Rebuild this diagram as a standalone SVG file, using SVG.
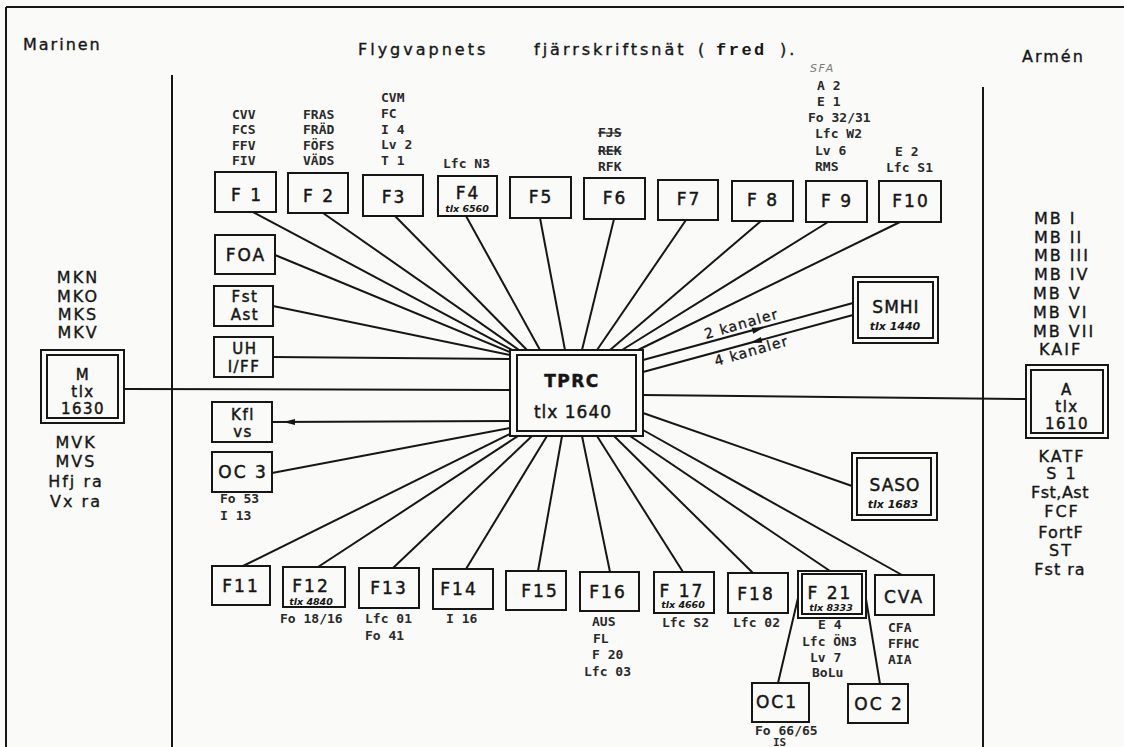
<svg xmlns="http://www.w3.org/2000/svg" xmlns:xlink="http://www.w3.org/1999/xlink" width="1124" height="747" viewBox="0 0 1124 747">
<defs>
<style>
.bg{fill:#fafaf8}
.box{fill:none;stroke:#161616;stroke-width:2}
.ln{stroke:#161616;stroke-width:2;fill:none}
.fr{stroke:#161616;stroke-width:2;fill:none}
.lbl{font-family:"DejaVu Sans","Liberation Sans",sans-serif;font-size:17px;fill:#161616;stroke:#161616;stroke-width:0.45px;letter-spacing:2px;text-anchor:middle}
.two{font-size:15px;letter-spacing:1.5px}
.big{font-family:"DejaVu Sans","Liberation Sans",sans-serif;font-size:16px;fill:#161616;stroke:#161616;stroke-width:0.35px;letter-spacing:2px}
.mid{text-anchor:middle}
.sm{font-family:"DejaVu Sans Mono","Liberation Mono",monospace;font-weight:bold;font-size:13px;fill:#2a2a2a}
.hw{font-family:"DejaVu Sans","Liberation Sans",sans-serif;font-style:italic;font-weight:bold;font-size:9.5px;fill:#161616;text-anchor:middle}
.hw2{font-size:11px}
.ttl{font-family:"DejaVu Sans","Liberation Sans",sans-serif;font-size:16px;fill:#161616;stroke:#161616;stroke-width:0.35px;letter-spacing:3px}
</style>
<path id="ah" d="M0,0 L-12,-3 L-12,3 Z" fill="#161616"/>
</defs>
<rect class="bg" x="0" y="0" width="1124" height="747"/>

<g id="frame">
<line class="fr" x1="6" y1="7" x2="1124" y2="7"/>
<line class="fr" x1="6" y1="7" x2="6" y2="747"/>
<line class="fr" x1="172" y1="75" x2="172" y2="747"/>
<line class="fr" x1="983" y1="87" x2="983" y2="747"/>
</g>

<g id="titles">
<text class="big" x="23" y="50">Marinen</text>
<text class="ttl" x="358" y="55">Flygvapnets</text>
<text class="ttl" x="534" y="55">fjärrskriftsnät</text>
<text class="ttl" x="698" y="55">(</text>
<text x="716" y="55" style="font-family:'Liberation Mono',monospace;font-weight:bold;font-size:17px;letter-spacing:2.5px;fill:#161616">fred</text>
<text class="ttl" x="780" y="55">).</text>
<text class="big" x="1022" y="62">Armén</text>
<text x="810" y="72" style="font-family:'DejaVu Sans',sans-serif;font-style:italic;font-size:11px;letter-spacing:1.5px;fill:#7a7a7a">SFA</text>
</g>

<g id="connectors">
<line class="ln" x1="253" y1="212" x2="512" y2="350"/>
<line class="ln" x1="323" y1="213" x2="519" y2="350"/>
<line class="ln" x1="395" y1="216" x2="527" y2="350"/>
<line class="ln" x1="466" y1="216" x2="540" y2="350"/>
<line class="ln" x1="540" y1="218" x2="565" y2="350"/>
<line class="ln" x1="614" y1="219" x2="582" y2="350"/>
<line class="ln" x1="686" y1="220" x2="597" y2="350"/>
<line class="ln" x1="761" y1="221" x2="610" y2="350"/>
<line class="ln" x1="828" y1="222" x2="622" y2="350"/>
<line class="ln" x1="900" y1="222" x2="638" y2="350"/>
<line class="ln" x1="275" y1="255" x2="510" y2="352"/>
<line class="ln" x1="273" y1="306" x2="510" y2="355"/>
<line class="ln" x1="273" y1="357" x2="510" y2="359"/>
<line class="ln" x1="124" y1="389" x2="510" y2="390"/>
<line class="ln" x1="272" y1="422" x2="510" y2="421"/>
<use xlink:href="#ah" href="#ah" transform="translate(283,422) rotate(180)"/>
<line class="ln" x1="272" y1="473" x2="510" y2="428"/>
<line class="ln" x1="243" y1="566" x2="510" y2="434"/>
<line class="ln" x1="318" y1="567" x2="518" y2="436"/>
<line class="ln" x1="393" y1="568" x2="532" y2="436"/>
<line class="ln" x1="466" y1="569" x2="547" y2="436"/>
<line class="ln" x1="538" y1="571" x2="562" y2="436"/>
<line class="ln" x1="610" y1="572" x2="582" y2="436"/>
<line class="ln" x1="683" y1="572" x2="597" y2="436"/>
<line class="ln" x1="753" y1="573" x2="614" y2="436"/>
<line class="ln" x1="830" y1="571" x2="630" y2="436"/>
<line class="ln" x1="902" y1="575" x2="643" y2="430"/>
<line class="ln" x1="643" y1="413" x2="852" y2="486"/>
<line class="ln" x1="643" y1="395" x2="1026" y2="399"/>
<line class="ln" x1="643" y1="360" x2="853" y2="303"/>
<use xlink:href="#ah" href="#ah" transform="translate(764,327.6) rotate(-15.2)"/>
<line class="ln" x1="643" y1="372" x2="853" y2="315"/>
<use xlink:href="#ah" href="#ah" transform="translate(750,343) rotate(164.8)"/>
<line class="ln" x1="798" y1="598" x2="778" y2="683"/>
<line class="ln" x1="866" y1="599" x2="880" y2="684"/>
<text transform="translate(706,339) rotate(-16)" style="font-family:'DejaVu Sans',sans-serif;font-size:14px;letter-spacing:1.2px;fill:#161616;stroke:#161616;stroke-width:0.3px">2 kanaler</text>
<text transform="translate(716,366) rotate(-16)" style="font-family:'DejaVu Sans',sans-serif;font-size:14px;letter-spacing:1.2px;fill:#161616;stroke:#161616;stroke-width:0.3px">4 kanaler</text>
</g>

<g id="F1">
<text class="sm" x="232" y="119">CVV</text><text class="sm" x="232" y="134">FCS</text><text class="sm" x="232" y="150">FFV</text><text class="sm" x="232" y="165">FIV</text>
<rect class="box" x="215" y="172" width="61" height="40"/><text class="lbl" x="247" y="201">F 1</text>
</g>
<g id="F2">
<text class="sm" x="303" y="119">FRAS</text><text class="sm" x="303" y="134">FRÄD</text><text class="sm" x="303" y="150">FÖFS</text><text class="sm" x="303" y="165">VÄDS</text>
<rect class="box" x="288" y="173" width="60" height="40"/><text class="lbl" x="319" y="202">F 2</text>
</g>
<g id="F3">
<text class="sm" x="381" y="102">CVM</text><text class="sm" x="381" y="118">FC</text><text class="sm" x="381" y="134">I 4</text><text class="sm" x="381" y="149">Lv 2</text><text class="sm" x="381" y="165">T 1</text>
<rect class="box" x="363" y="175" width="60" height="41"/><text class="lbl" x="394" y="203">F3</text>
</g>
<g id="F4">
<text class="sm" x="443" y="168">Lfc N3</text>
<rect class="box" x="438" y="176" width="59" height="40"/><text class="lbl" x="468" y="199">F4</text><text class="hw" x="467" y="212">tlx 6560</text>
</g>
<g id="F5"><rect class="box" x="510" y="177" width="61" height="41"/><text class="lbl" x="541" y="203">F5</text></g>
<g id="F6">
<text class="sm" x="598" y="137" style="text-decoration:line-through">FJS</text><text class="sm" x="598" y="155" style="text-decoration:line-through">REK</text><text class="sm" x="598" y="171">RFK</text>
<rect class="box" x="584" y="178" width="61" height="41"/><text class="lbl" x="615" y="204">F6</text>
</g>
<g id="F7"><rect class="box" x="658" y="180" width="60" height="40"/><text class="lbl" x="689" y="205">F7</text></g>
<g id="F8"><rect class="box" x="732" y="181" width="61" height="40"/><text class="lbl" x="763" y="206">F 8</text></g>
<g id="F9">
<text class="sm" x="817" y="90">A 2</text><text class="sm" x="817" y="106">E 1</text><text class="sm" x="808" y="122">Fo 32/31</text><text class="sm" x="815" y="138">Lfc W2</text><text class="sm" x="815" y="155">Lv 6</text><text class="sm" x="815" y="171">RMS</text>
<rect class="box" x="806" y="181" width="61" height="41"/><text class="lbl" x="837" y="207">F 9</text>
</g>
<g id="F10">
<text class="sm" x="895" y="156">E 2</text><text class="sm" x="886" y="172">Lfc S1</text>
<rect class="box" x="879" y="181" width="62" height="41"/><text class="lbl" x="911" y="207">F10</text>
</g>

<g id="FOA"><rect class="box" x="215" y="235" width="60" height="39"/><text class="lbl" x="246" y="261">FOA</text></g>
<g id="FstAst"><rect class="box" x="214" y="286" width="59" height="40"/><text class="lbl two" x="245" y="302">Fst</text><text class="lbl two" x="245" y="320">Ast</text></g>
<g id="UH"><rect class="box" x="214" y="337" width="59" height="40"/><text class="lbl two" x="245" y="354">UH</text><text class="lbl two" x="244" y="372">I/FF</text></g>
<g id="Kfl"><rect class="box" x="212" y="402" width="60" height="40"/><text class="lbl two" x="243" y="420">Kfl</text><text class="lbl two" x="243" y="437">vs</text></g>
<g id="OC3">
<rect class="box" x="212" y="452" width="60" height="40"/><text class="lbl" x="243" y="478">OC 3</text>
<text class="sm" x="220" y="503">Fo 53</text><text class="sm" x="220" y="520">I 13</text>
</g>

<g id="M">
<text class="big mid" x="78" y="283">MKN</text><text class="big mid" x="78" y="302">MKO</text><text class="big mid" x="78" y="320">MKS</text><text class="big mid" x="78" y="338">MKV</text>
<rect class="box" x="41" y="350" width="83" height="73"/><rect class="box" x="47" y="355" width="71" height="63"/>
<text class="lbl two" x="83" y="380">M</text><text class="lbl two" x="83" y="397">tlx</text><text class="lbl two" x="83" y="414">1630</text>
<text class="big mid" x="76" y="448">MVK</text><text class="big mid" x="76" y="467">MVS</text><text class="big mid" x="76" y="487">Hfj ra</text><text class="big mid" x="76" y="507">Vx ra</text>
</g>

<g id="TPRC">
<rect class="box" x="510" y="350" width="133" height="86"/><rect class="box" x="517" y="355" width="119" height="76"/>
<text class="lbl" x="572" y="387" style="font-weight:bold;letter-spacing:1.5px">TPRC</text>
<text class="lbl" x="573" y="418" style="letter-spacing:1px">tlx 1640</text>
</g>

<g id="SMHI">
<rect class="box" x="853" y="277" width="85" height="66"/><rect class="box" x="858" y="282" width="75" height="56"/>
<text class="lbl" x="896" y="313" style="letter-spacing:1px">SMHI</text><text class="hw hw2" x="895" y="330">tlx 1440</text>
</g>
<g id="SASO">
<rect class="box" x="852" y="453" width="85" height="67"/><rect class="box" x="857" y="458" width="74" height="57"/>
<text class="lbl" x="895" y="491" style="letter-spacing:1px">SASO</text><text class="hw hw2" x="893" y="508">tlx 1683</text>
</g>

<g id="A">
<text class="big" x="1034" y="224">MB I</text><text class="big" x="1034" y="243">MB II</text><text class="big" x="1034" y="261">MB III</text><text class="big" x="1034" y="280">MB IV</text><text class="big" x="1033" y="299">MB V</text><text class="big" x="1033" y="318">MB VI</text><text class="big" x="1033" y="337">MB VII</text><text class="big" x="1039" y="355">KAIF</text>
<rect class="box" x="1026" y="365" width="82" height="73"/><rect class="box" x="1031" y="370" width="72" height="63"/>
<text class="lbl two" x="1067" y="395">A</text><text class="lbl two" x="1067" y="412">tlx</text><text class="lbl two" x="1067" y="429">1610</text>
<text class="big mid" x="1062" y="462">KATF</text><text class="big mid" x="1062" y="479">S 1</text><text class="big mid" x="1060" y="498" style="letter-spacing:0.5px">Fst,Ast</text><text class="big mid" x="1062" y="517">FCF</text><text class="big mid" x="1061" y="538" style="letter-spacing:1px">FortF</text><text class="big mid" x="1061" y="556">ST</text><text class="big mid" x="1060" y="575" style="letter-spacing:1px">Fst ra</text>
</g>

<g id="F11"><rect class="box" x="212" y="566" width="58" height="39"/><text class="lbl" x="241" y="592">F11</text></g>
<g id="F12">
<rect class="box" x="283" y="567" width="62" height="40"/><text class="lbl" x="311" y="592">F12</text><text class="hw" x="311" y="605">tlx 4840</text>
<text class="sm" x="280" y="623">Fo 18/16</text>
</g>
<g id="F13">
<rect class="box" x="359" y="568" width="60" height="40"/><text class="lbl" x="389" y="594">F13</text>
<text class="sm" x="365" y="623">Lfc 01</text><text class="sm" x="365" y="640">Fo 41</text>
</g>
<g id="F14">
<rect class="box" x="433" y="569" width="60" height="40"/><text class="lbl" x="459" y="595">F14</text>
<text class="sm" x="446" y="623">I 16</text>
</g>
<g id="F15"><rect class="box" x="506" y="571" width="60" height="39"/><text class="lbl" x="540" y="597">F15</text></g>
<g id="F16">
<rect class="box" x="580" y="572" width="59" height="39"/><text class="lbl" x="608" y="598">F16</text>
<text class="sm" x="592" y="626">AUS</text><text class="sm" x="593" y="643">FL</text><text class="sm" x="592" y="659">F 20</text><text class="sm" x="584" y="676">Lfc 03</text>
</g>
<g id="F17">
<rect class="box" x="654" y="572" width="60" height="41"/><text class="lbl" x="682" y="597">F 17</text><text class="hw" x="683" y="608">tlx 4660</text>
<text class="sm" x="662" y="627">Lfc S2</text>
</g>
<g id="F18">
<rect class="box" x="728" y="573" width="60" height="40"/><text class="lbl" x="756" y="600">F18</text>
<text class="sm" x="733" y="627">Lfc 02</text>
</g>
<g id="F21">
<rect class="box" x="798" y="571" width="68" height="47"/><rect class="box" x="802" y="574" width="60" height="40"/>
<text class="lbl" x="830" y="599">F 21</text><text class="hw" x="831" y="611">tlx 8333</text>
<text class="sm" x="818" y="629">E 4</text><text class="sm" x="802" y="646">Lfc ÖN3</text><text class="sm" x="810" y="662">Lv 7</text><text class="sm" x="812" y="677">BoLu</text>
</g>
<g id="CVA">
<rect class="box" x="875" y="575" width="59" height="40"/><text class="lbl" x="904" y="603">CVA</text>
<text class="sm" x="888" y="632">CFA</text><text class="sm" x="888" y="648">FFHC</text><text class="sm" x="888" y="664">AIA</text>
</g>
<g id="OC1">
<rect class="box" x="752" y="683" width="57" height="39"/><text class="lbl" x="777" y="708">OC1</text>
<text class="sm" x="755" y="735">Fo 66/65</text><text class="sm" x="773" y="746" style="font-size:11px">IS</text>
</g>
<g id="OC2"><rect class="box" x="848" y="684" width="60" height="39"/><text class="lbl" x="879" y="710">OC 2</text></g>
</svg>
